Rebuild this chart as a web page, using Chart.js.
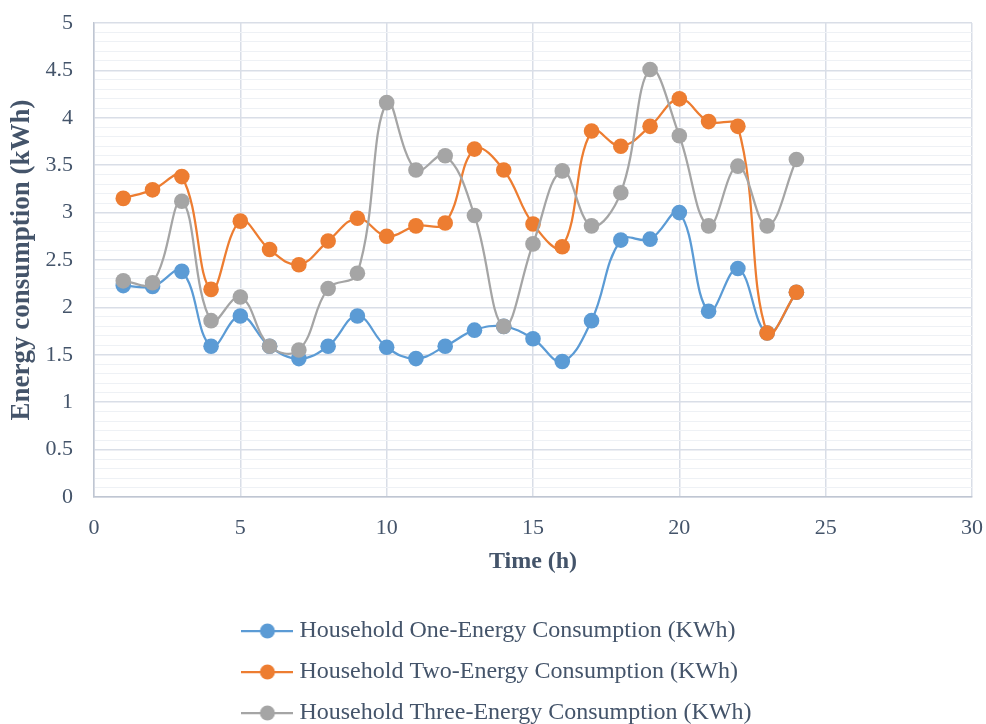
<!DOCTYPE html>
<html>
<head>
<meta charset="utf-8">
<script src="https://cdn.jsdelivr.net/npm/chart.js@4/dist/chart.umd.min.js"></script>
<style>
  html, body { margin: 0; padding: 0; background: #ffffff; }
  #wrap { width: 986px; height: 724px; position: relative; }
</style>
</head>
<body>
<div id="wrap"><canvas id="c"></canvas></div>
<script>
const hours = [1,2,3,4,5,6,7,8,9,10,11,12,13,14,15,16,17,18,19,20,21,22,23,24];
const household1 = [2.23,2.22,2.38,1.59,1.91,1.59,1.46,1.59,1.91,1.58,1.46,1.59,1.76,1.80,1.67,1.43,1.86,2.71,2.72,3.00,1.96,2.41,1.73,2.16];
const household2 = [3.15,3.24,3.38,2.19,2.91,2.61,2.45,2.70,2.94,2.75,2.86,2.89,3.67,3.45,2.88,2.64,3.86,3.70,3.91,4.20,3.96,3.91,1.73,2.16];
const household3 = [2.28,2.26,3.12,1.86,2.11,1.59,1.55,2.20,2.36,4.16,3.45,3.60,2.97,1.80,2.67,3.44,2.86,3.21,4.51,3.81,2.86,3.49,2.86,3.56];
const seriesNames = [
  'Household One-Energy Consumption (KWh)',
  'Household Two-Energy Consumption (KWh)',
  'Household Three-Energy Consumption (KWh)'
];
const seriesColors = ['#5B9BD5', '#ED7D31', '#A5A5A5'];
const xTitle = 'Time (h)';
const yTitle = 'Energy consumption (kWh)';

const TEXT = '#44546A';
const FONT = "'Liberation Serif', 'Times New Roman', serif";

function toPoints(vals) { return hours.map((h, i) => ({ x: h, y: vals[i] })); }

function legendIcon(color) {
  const cv = document.createElement('canvas');
  cv.width = 52; cv.height = 18;
  const g = cv.getContext('2d');
  g.strokeStyle = color; g.lineWidth = 2.25;
  g.beginPath(); g.moveTo(0, 9); g.lineTo(52, 9); g.stroke();
  g.fillStyle = color;
  g.beginPath(); g.arc(26, 9, 7.5, 0, Math.PI * 2); g.fill();
  return cv;
}
const icons = seriesColors.map(legendIcon);

const allSeries = [household1, household2, household3];
const datasets = allSeries.map((vals, i) => ({
  label: seriesNames[i],
  data: toPoints(vals),
  borderColor: seriesColors[i],
  backgroundColor: seriesColors[i],
  pointBackgroundColor: seriesColors[i],
  pointBorderColor: seriesColors[i],
  borderWidth: 2.25,
  pointRadius: 7.8,
  pointHoverRadius: 7.8,
  pointBorderWidth: 0,
  tension: 0.4,
  fill: false,
  order: 3 - i
}));

const isMajor = v => Math.abs(v * 2 - Math.round(v * 2)) < 1e-6;

const legendAlign = {
  id: 'legendAlign',
  afterLayout(chart) {
    const lg = chart.legend;
    if (lg && lg.lineWidths && lg.lineWidths.length) {
      const m = Math.max(...lg.lineWidths) - 27;
      for (let i = 0; i < lg.lineWidths.length; i++) lg.lineWidths[i] = m;
    }
  }
};

new Chart(document.getElementById('c'), {
  type: 'line',
  data: { datasets },
  plugins: [legendAlign],
  options: {
    responsive: true,
    maintainAspectRatio: false,
    animation: false,
    layout: { padding: { top: 23, right: 14, left: 0, bottom: -11 } },
    plugins: {
      tooltip: { enabled: false },
      legend: {
        position: 'bottom',
        align: 'center',
        labels: {
          color: TEXT,
          font: { family: FONT, size: 24 },
          usePointStyle: true,
          pointStyleWidth: 40,
          padding: 17,
          generateLabels(chart) {
            const items = Chart.defaults.plugins.legend.labels.generateLabels(chart);
            items.sort((a, b) => a.datasetIndex - b.datasetIndex);
            items.forEach(it => { it.pointStyle = icons[it.datasetIndex]; });
            return items;
          }
        }
      }
    },
    scales: {
      x: {
        type: 'linear',
        min: 0, max: 30,
        ticks: { stepSize: 5, color: TEXT, font: { family: FONT, size: 22 }, padding: 0 },
        grid: { color: '#D9DEE7', lineWidth: 1.5, drawTicks: true, tickLength: 18, tickColor: 'rgba(0,0,0,0)' },
        border: { color: '#BFC6D2', width: 1.5 },
        title: { display: true, text: xTitle, color: TEXT, font: { family: FONT, size: 24, weight: 'bold' }, padding: { top: 0, bottom: 26 } },
        afterFit(s) { s.height = 105; }
      },
      y: {
        min: 0, max: 5,
        ticks: {
          stepSize: 0.1, autoSkip: false, color: TEXT,
          font: { family: FONT, size: 22 }, padding: 0,
          callback: v => isMajor(v) ? String(Math.round(v * 2) / 2) : ''
        },
        grid: {
          drawTicks: true, tickLength: 21, tickColor: 'rgba(0,0,0,0)',
          color: c => (c.tick && isMajor(c.tick.value)) ? '#D9DEE7' : '#EEF1F5',
          lineWidth: c => (c.tick && isMajor(c.tick.value)) ? 1.5 : 1
        },
        border: { color: '#BFC6D2', width: 1.5 },
        title: { display: true, text: yTitle, color: TEXT, font: { family: FONT, size: 27, weight: 'bold' }, padding: { top: 6, bottom: 0 } },
        afterFit(s) { s.width = 94; }
      }
    }
  }
});
</script>
</body>
</html>
